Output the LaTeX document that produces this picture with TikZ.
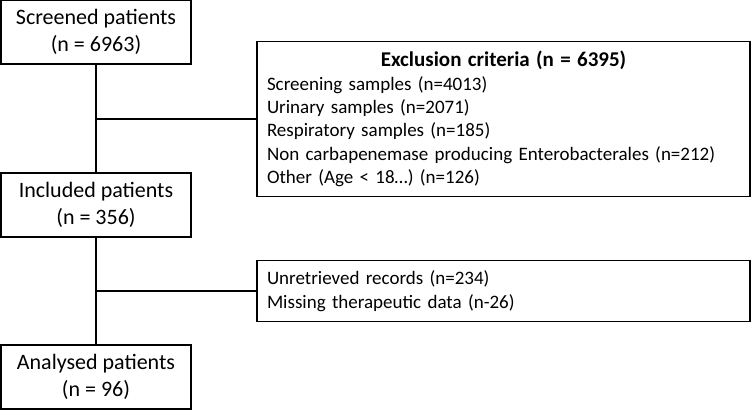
\documentclass[tikz,border=0pt]{standalone}
\usepackage{fontspec}
\setmainfont{Carlito}
\tikzset{
  patbox/.style={draw, line width=1.6pt, minimum width=190pt, minimum height=64pt, align=center, inner sep=0pt,
    font=\fontsize{22}{26.5}\selectfont},
  exbox/.style={draw, line width=1.6pt, minimum width=493pt, text width=473pt, align=left, inner sep=10pt,
    font=\fontsize{19}{23.3}\selectfont},
  link/.style={line width=1.2pt}
}
\begin{document}
\begin{tikzpicture}[x=1pt,y=-1pt]
\useasboundingbox (0,0) rectangle (752,410);

\node[patbox] (screened) at (96,32) {Screened patients\\(n = 6963)};
\node[patbox] (included) at (96,205) {Included patients\\(n = 356)};
\node[patbox] (analysed) at (96,377) {Analysed patients\\(n = 96)};

\node[exbox, minimum height=154pt] (excl) at (503.5,119) {\makebox[\linewidth][c]{\fontsize{21}{25}\bfseries Exclusion criteria (n = 6395)}\\
Screening samples (n=4013)\\
Urinary samples (n=2071)\\
Respiratory samples (n=185)\\
Non carbapenemase producing Enterobacterales (n=212)\\
Other (Age < 18\dots) (n=126)};

\node[exbox, minimum height=56pt, font=\fontsize{19}{24}\selectfont] (lost) at (503.5,291) {Unretrieved records (n=234)\\
Missing therapeutic data (n-26)};

\draw[link] (screened) -- (included);
\draw[link] (included) -- (analysed);
\draw[link] (excl.west) -- (excl.west -| screened.south);
\draw[link] (lost.west) -- (lost.west -| included.south);
\end{tikzpicture}
\end{document}
